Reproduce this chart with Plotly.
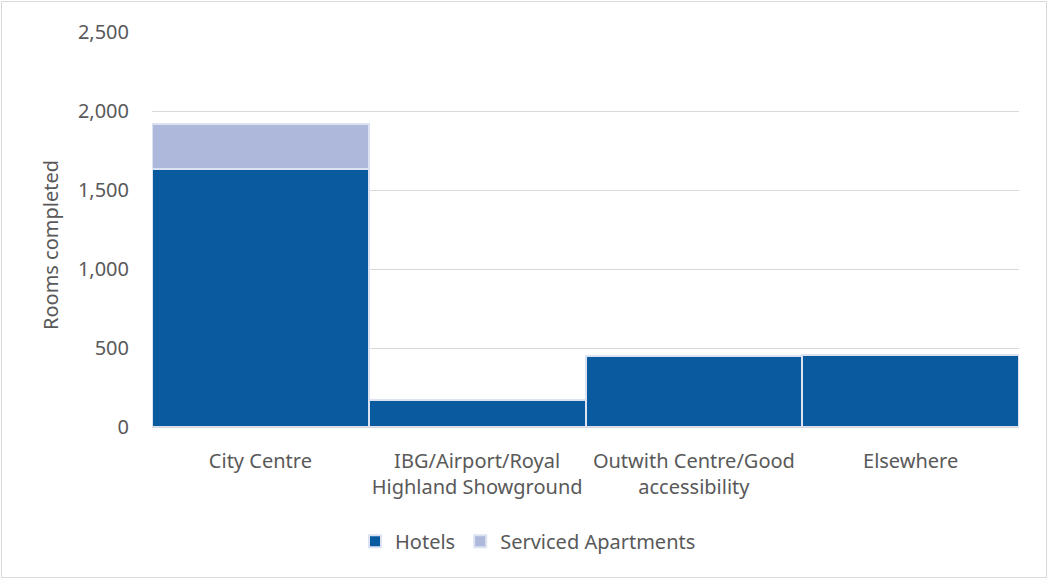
import plotly.graph_objects as go

categories = ["City Centre", "IBG/Airport/Royal<br>Highland Showground",
              "Outwith Centre/Good<br>accessibility", "Elsewhere"]
hotels = [1630, 171, 450, 456]
serviced_apartments = [290, 0, 0, 0]
y_ticks = [0, 500, 1000, 1500, 2000, 2500]

W, H = 1048, 579
L, R, T, B = 152, 29, 32, 152
pw, ph = W - L - R, H - T - B

font = dict(family="Noto Sans, Open Sans, sans-serif", size=20, color="#595959")
edge = dict(color="#dce2f2", width=2)

fig = go.Figure()
fig.add_trace(go.Bar(x=categories, y=hotels, name="Hotels",
                     marker=dict(color="#0a5aa0", line=edge)))
fig.add_trace(go.Bar(x=categories, y=serviced_apartments, name="Serviced Apartments",
                     marker=dict(color="#adb8db", line=edge)))

fig.update_layout(
    width=W, height=H,
    barmode="stack", bargap=0,
    margin=dict(l=L, r=R, t=T, b=B),
    paper_bgcolor="white", plot_bgcolor="white",
    font=font,
    showlegend=True,
    legend=dict(orientation="h", x=(528 - L) / pw, xanchor="center",
                y=-0.24, yanchor="top",
                font=font, traceorder="normal", itemwidth=30),
    xaxis=dict(showgrid=False, showline=True, linecolor="#d9d9d9", linewidth=1,
               ticks="", tickfont=font, ticklabelstandoff=16),
    yaxis=dict(range=[0, 2500], tickvals=y_ticks, tickformat=",",
               showgrid=True, gridcolor="#d9d9d9", gridwidth=1,
               zeroline=False, showline=False, ticks="",
               tickfont=font, ticklabelstandoff=22),
    annotations=[dict(text="Rooms completed", textangle=-90, showarrow=False,
                      xref="paper", yref="paper",
                      x=(50 - L) / pw, y=(H - B - 245) / ph,
                      xanchor="center", yanchor="middle", font=font)],
    shapes=[dict(type="rect", xref="paper", yref="paper",
                 x0=(1.5 - L) / pw, x1=(W - 1.5 - L) / pw,
                 y0=-(B - 1.5) / ph, y1=(H - B - 1.5) / ph,
                 line=dict(color="#d9d9d9", width=1), layer="below")],
)

fig.write_html("out.html")
